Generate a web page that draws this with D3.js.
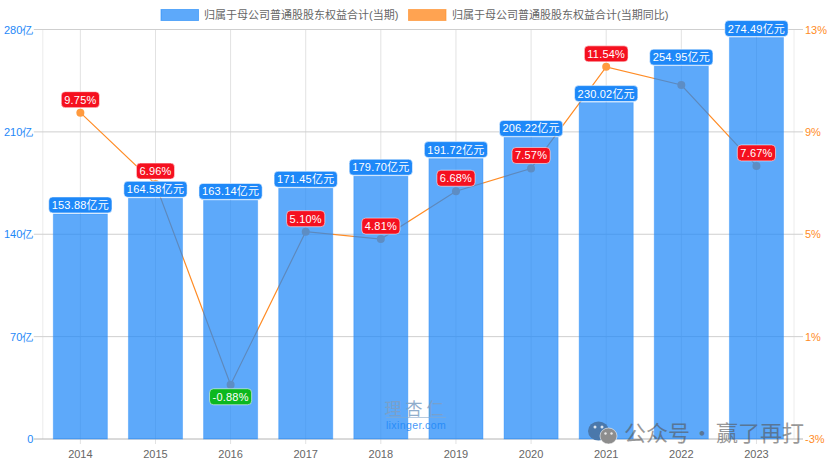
<!DOCTYPE html>
<html>
<head>
<meta charset="utf-8">
<script src="https://cdn.jsdelivr.net/npm/d3@7"></script>
<style>
html, body { margin: 0; padding: 0; background: #fff; }
svg { display: block; font-family: "Liberation Sans", "Noto Sans CJK SC", sans-serif; }
</style>
</head>
<body>
<svg id="chart" width="832" height="466"></svg>
<script>
const years = ['2014', '2015', '2016', '2017', '2018', '2019', '2020', '2021', '2022', '2023'];
const equity = [153.88, 164.58, 163.14, 171.45, 179.70, 191.72, 206.22, 230.02, 254.95, 274.49];
const growth = [9.75, 6.96, -0.88, 5.10, 4.81, 6.68, 7.57, 11.54, 10.83, 7.67];
const growthLabelled = [true, true, true, true, true, true, true, true, false, true];
const leftTicks = [0, 70, 140, 210, 280];
const rightTicks = [-3, 1, 5, 9, 13];
const legendNames = ['归属于母公司普通股股东权益合计(当期)', '归属于母公司普通股股东权益合计(当期同比)'];

const BLUE = '#1e88f8';
const ORANGE = '#ff8c26';
const margin = { top: 29.5, right: 38, bottom: 27, left: 42.8 };
const W = 832, H = 466;

const svg = d3.select('#chart');

const x = d3.scaleBand().domain(years).range([margin.left, W - margin.right]).paddingInner(0.28).paddingOuter(0.14);
const y = d3.scaleLinear().domain([0, 280]).range([H - margin.bottom, margin.top]);
const y2 = d3.scaleLinear().domain([-3, 13]).range([H - margin.bottom, margin.top]);
const cx = d => x(d) + x.bandwidth() / 2;

// grid
const grid = svg.append('g');
grid.selectAll('.v').data(years).join('line')
    .attr('x1', cx).attr('x2', cx)
    .attr('y1', margin.top).attr('y2', y(0) + 5)
    .attr('stroke', '#e2e2e2');
grid.selectAll('.edge').data([margin.left, W - margin.right]).join('line')
    .attr('x1', d => d).attr('x2', d => d)
    .attr('y1', margin.top).attr('y2', y(0))
    .attr('stroke', '#ececec');
grid.selectAll('.h').data(leftTicks).join('line')
    .attr('x1', margin.left - 9).attr('x2', W - margin.right + 9)
    .attr('y1', d => y(d)).attr('y2', d => y(d))
    .attr('stroke', d => d === 0 ? '#b4b4b4' : '#cfcfcf');

// axes
const axisLeft = d3.axisLeft(y).tickValues(leftTicks).tickSize(0).tickPadding(9.5)
    .tickFormat(d => d === 0 ? '0' : d + '亿');
const axisRight = d3.axisRight(y2).tickValues(rightTicks).tickSize(0).tickPadding(11)
    .tickFormat(d => d + '%');
const axisBottom = d3.axisBottom(x).tickSize(0).tickPadding(11);

function styleAxis(g, color, size) {
    g.select('.domain').remove();
    g.selectAll('text').attr('fill', color).style('font-size', size + 'px').style('font-family', 'inherit');
}
svg.append('g').attr('transform', `translate(${margin.left},0)`).call(axisLeft).call(styleAxis, BLUE, 11);
svg.append('g').attr('transform', `translate(${W - margin.right},0)`).call(axisRight).call(styleAxis, ORANGE, 11);
svg.append('g').attr('transform', `translate(0,${y(0)})`).call(axisBottom).call(styleAxis, '#666', 11);

// line sits under the bars, which is why it greys out where they overlap
const line = d3.line().x((d, i) => cx(years[i])).y(d => y2(d));
svg.append('path').datum(growth)
    .attr('d', line)
    .attr('fill', 'none')
    .attr('stroke', ORANGE)
    .attr('stroke-width', 1.2);
svg.selectAll('.pt').data(growth).join('circle')
    .attr('cx', (d, i) => cx(years[i]))
    .attr('cy', d => y2(d))
    .attr('r', 4)
    .attr('fill', '#ff9a3e');

svg.selectAll('.bar').data(equity).join('rect')
    .attr('x', (d, i) => x(years[i]))
    .attr('y', d => y(d))
    .attr('width', x.bandwidth())
    .attr('height', d => y(0) - y(d))
    .attr('fill', 'rgba(30,136,248,0.72)')
    .attr('stroke', 'rgba(30,136,248,0.35)');

// legend
const legendX = [161, 408.5], legendTextX = [204, 452];
legendNames.forEach((name, i) => {
    svg.append('rect')
        .attr('x', legendX[i]).attr('y', 9.5).attr('width', 37.5).attr('height', 11)
        .attr('fill', i ? 'rgba(255,140,38,0.8)' : 'rgba(30,136,248,0.72)')
        .attr('stroke', i ? ORANGE : BLUE).attr('stroke-opacity', 0.6);
    svg.append('text')
        .attr('x', legendTextX[i]).attr('y', 19)
        .attr('fill', '#666').style('font-size', '11px')
        .text(name);
});

function tag(g, px, py, text, color) {
    const t = g.append('text')
        .attr('x', px).attr('y', py + 4)
        .attr('text-anchor', 'middle')
        .attr('fill', '#fff').style('font-size', '11px')
        .style('letter-spacing', '0.2px')
        .text(text);
    const w = t.node().getComputedTextLength();
    g.insert('rect', 'text')
        .attr('x', px - w / 2 - 3).attr('y', py - 8)
        .attr('width', w + 6).attr('height', 16).attr('rx', 4)
        .attr('fill', color).attr('stroke', '#fff').attr('stroke-opacity', 0.55);
}

// value tags
equity.forEach((d, i) => {
    tag(svg.append('g'), cx(years[i]), y(d) - 9, d.toFixed(2) + '亿元', BLUE);
});
growth.forEach((d, i) => {
    if (!growthLabelled[i]) return;
    const below = d < 0;
    tag(svg.append('g'), cx(years[i]), y2(d) + (below ? 12 : -13), d.toFixed(2) + '%', below ? '#0cb81e' : '#f5101f');
});

// watermarks
const mark = svg.append('g');
mark.append('text').attr('x', 416).attr('y', 415).attr('text-anchor', 'middle')
    .attr('fill', '#7d9fc4').attr('opacity', 0.85).style('font-size', '17px').style('letter-spacing', '4px')
    .text('理杏仁');
mark.append('line').attr('x1', 386).attr('x2', 446).attr('y1', 417.5).attr('y2', 417.5)
    .attr('stroke', '#86a9cc').attr('opacity', 0.6);
mark.append('text').attr('x', 416).attr('y', 428.5).attr('text-anchor', 'middle')
    .attr('fill', BLUE).attr('opacity', 0.85).style('font-size', '10.5px').style('letter-spacing', '0.4px')
    .text('lixinger.com');

const wechat = svg.append('g');
wechat.append('ellipse').attr('cx', 598.5).attr('cy', 431).attr('rx', 10.5).attr('ry', 9.5).attr('fill', '#4a78ab');
wechat.append('ellipse').attr('cx', 608.5).attr('cy', 436).attr('rx', 8.5).attr('ry', 8).attr('fill', '#8d8d8d').attr('stroke', '#fff').attr('stroke-opacity', 0.7).attr('stroke-width', 0.8);
wechat.selectAll('.eye').data([[595, 427], [602, 427]]).join('circle')
    .attr('cx', d => d[0]).attr('cy', d => d[1]).attr('r', 1.5).attr('fill', '#fff').attr('opacity', 0.8);
wechat.selectAll('.eye2').data([[605.5, 433.5], [611.5, 433.5]]).join('circle')
    .attr('cx', d => d[0]).attr('cy', d => d[1]).attr('r', 1.2).attr('fill', '#fff').attr('opacity', 0.8);
const wm = svg.append('text').attr('y', 441)
    .attr('fill', '#555').attr('opacity', 0.6)
    .style('font-size', '22px').style('font-family', '"Noto Sans CJK SC"');
wm.append('tspan').attr('x', 624).text('公众号');
wm.append('tspan').attr('x', 691).text('·');
wm.append('tspan').attr('x', 716).text('赢了再打');
</script>
</body>
</html>
